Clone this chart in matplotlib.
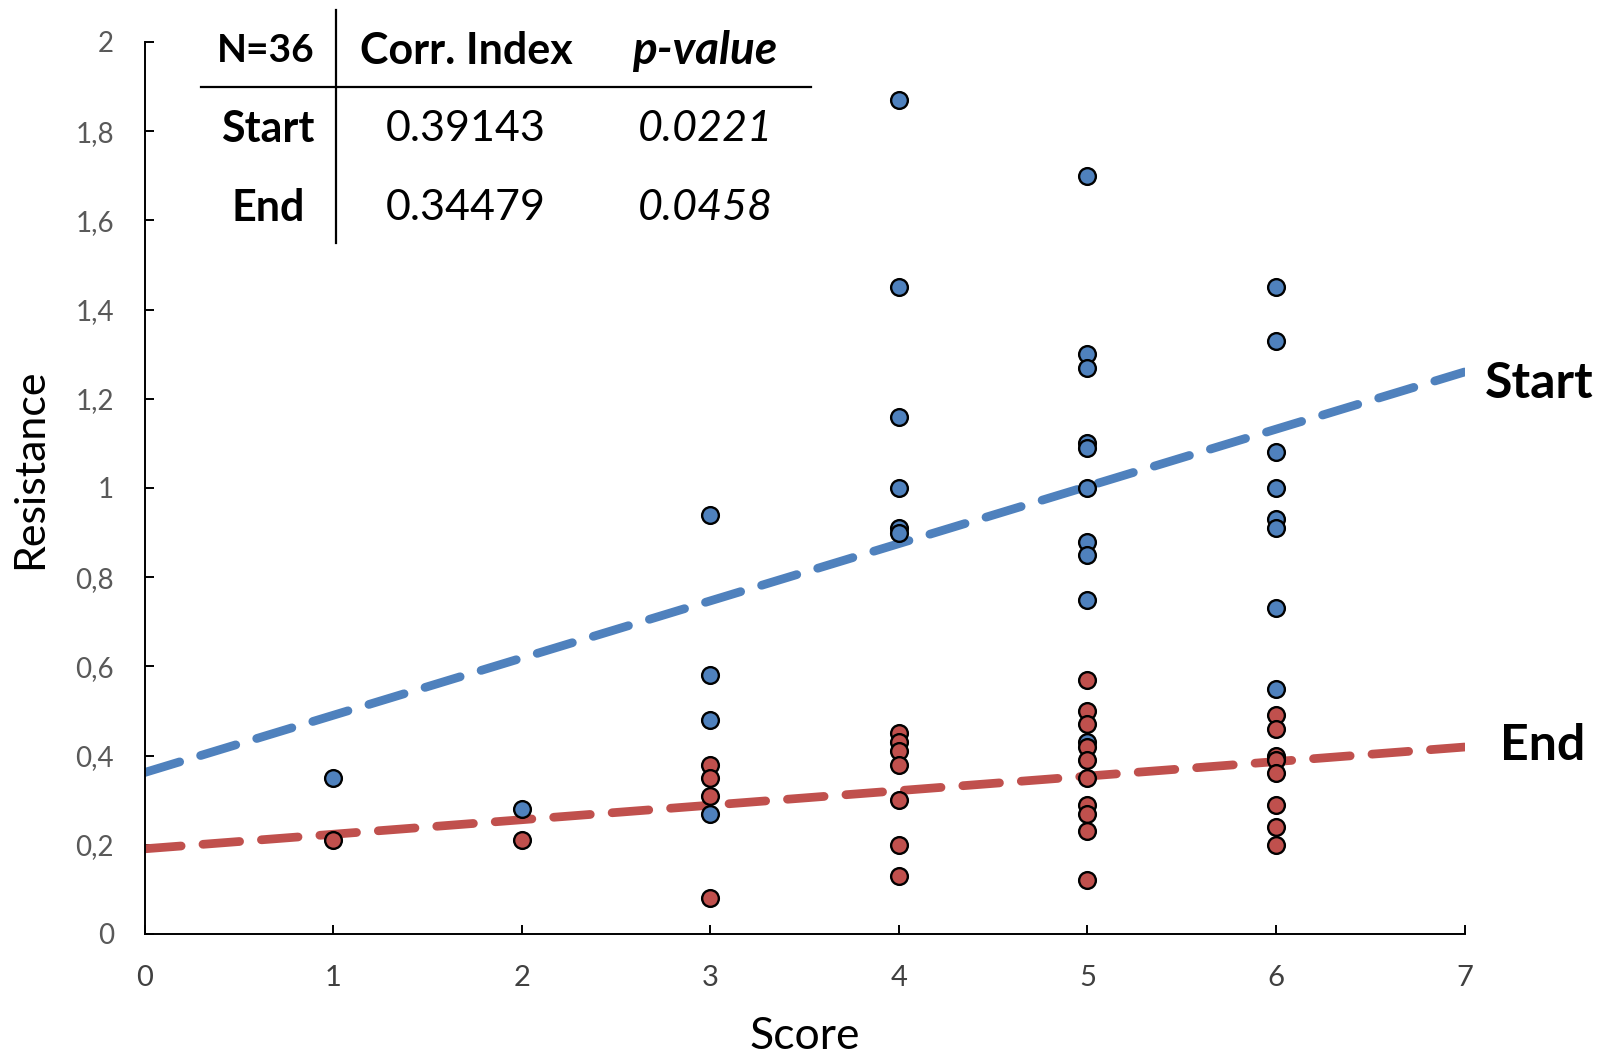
import numpy as np
import matplotlib
matplotlib.use("Agg")
import matplotlib.pyplot as plt
from matplotlib.lines import Line2D

plt.rcParams['font.family'] = ['Lato', 'DejaVu Sans']

# data
start_x = [1, 2, 3, 3, 3, 3, 4, 4, 4, 4, 4, 4,
           5, 5, 5, 5, 5, 5, 5, 5, 5, 5,
           6, 6, 6, 6, 6, 6, 6, 6]
start_y = [0.35, 0.28, 0.94, 0.58, 0.48, 0.27, 1.87, 1.45, 1.16, 1.00, 0.91, 0.90,
           1.70, 1.30, 1.27, 1.10, 1.09, 1.00, 0.88, 0.85, 0.75, 0.43,
           1.45, 1.33, 1.08, 1.00, 0.93, 0.91, 0.73, 0.55]
end_x = [1, 2, 3, 3, 3, 3, 4, 4, 4, 4, 4, 4, 4,
         5, 5, 5, 5, 5, 5, 5, 5, 5, 5,
         6, 6, 6, 6, 6, 6, 6, 6]
end_y = [0.21, 0.21, 0.38, 0.35, 0.31, 0.08, 0.45, 0.43, 0.41, 0.38, 0.30, 0.20, 0.13,
         0.57, 0.50, 0.47, 0.42, 0.39, 0.35, 0.29, 0.27, 0.23, 0.12,
         0.49, 0.46, 0.40, 0.39, 0.36, 0.29, 0.24, 0.20]

# linear trend lines (slope, intercept)
start_fit = (0.1283, 0.362)
end_fit = (0.0326, 0.191)

table_header = ["N=36", "Corr. Index", "p-value"]
table_rows = ["Start", "End"]
corr_index = ["0.39143", "0.34479"]
p_values = ["0.0221", "0.0458"]

blue = "#4F81BD"
red = "#C0504D"

W, H = 1598, 1054
fig = plt.figure(figsize=(W / 100, H / 100), dpi=100)
ax = fig.add_axes([144.5 / W, 1 - 934 / H, (1464.5 - 144.5) / W, (934 - 42) / H])

xs = np.array([0, 7])
ax.plot(xs, start_fit[0] * xs + start_fit[1], color=blue, lw=6.3,
        dashes=(4.2, 2.5), solid_capstyle='round', dash_capstyle='round', zorder=2)
ax.plot(xs, end_fit[0] * xs + end_fit[1], color=red, lw=6.3,
        dashes=(4.2, 2.5), solid_capstyle='round', dash_capstyle='round', zorder=2)

ax.scatter(start_x, start_y, s=145, color=blue, edgecolors='black', linewidths=1.7, zorder=3)
ax.scatter(end_x, end_y, s=145, color=red, edgecolors='black', linewidths=1.7, zorder=3)

ax.set_xlim(0, 7)
ax.set_ylim(0, 2)
ax.set_xticks(range(8))
yt = np.arange(0, 2.01, 0.2)
ax.set_yticks(yt)
ax.set_yticklabels([("%g" % round(v, 1)).replace('.', ',') for v in yt])

for s in ['top', 'right']:
    ax.spines[s].set_visible(False)
for s in ['left', 'bottom']:
    ax.spines[s].set_linewidth(1.4)
    ax.spines[s].set_color('black')

ax.tick_params(axis='both', direction='in', length=6.5, width=1.4, color='black')
ax.tick_params(axis='x', labelsize=21, labelcolor='#404040', pad=22)
ax.tick_params(axis='y', labelsize=20, labelcolor='#595959', pad=22)

ax.set_xlabel("Score", fontsize=32, labelpad=18)
ax.set_ylabel("Resistance", fontsize=31)
ax.yaxis.set_label_coords(-0.0863, 0.5215)
ax.yaxis.label.set_verticalalignment('center')

# table in the top-left
def ft(x, y, s, size=31, **kw):
    fig.text(x / W, 1 - y / H, s, ha='center', va='center', fontsize=size, **kw)

hx = [266, 466, 705]
ft(hx[0], 51, table_header[0], size=28, fontweight='bold')
ft(hx[1], 51, table_header[1], fontweight='bold')
ft(hx[2], 51, table_header[2], size=33, fontweight='bold', fontstyle='italic')
for i, ry in enumerate([129, 208]):
    ft(268, ry, table_rows[i], fontweight='bold')
    ft(hx[1], ry, corr_index[i])
    ft(hx[2], ry, p_values[i], fontstyle='italic')

fig.add_artist(Line2D([201 / W, 811 / W], [1 - 87 / H, 1 - 87 / H], color='black', lw=1.6))
fig.add_artist(Line2D([336 / W, 336 / W], [1 - 10 / H, 1 - 243 / H], color='black', lw=1.6))

fig.text(1485 / W, 1 - 383 / H, "Start", ha='left', va='center', fontsize=36, fontweight='bold')
fig.text(1500 / W, 1 - 745 / H, "End", ha='left', va='center', fontsize=36, fontweight='bold')

fig.savefig("out.png", dpi=100)
